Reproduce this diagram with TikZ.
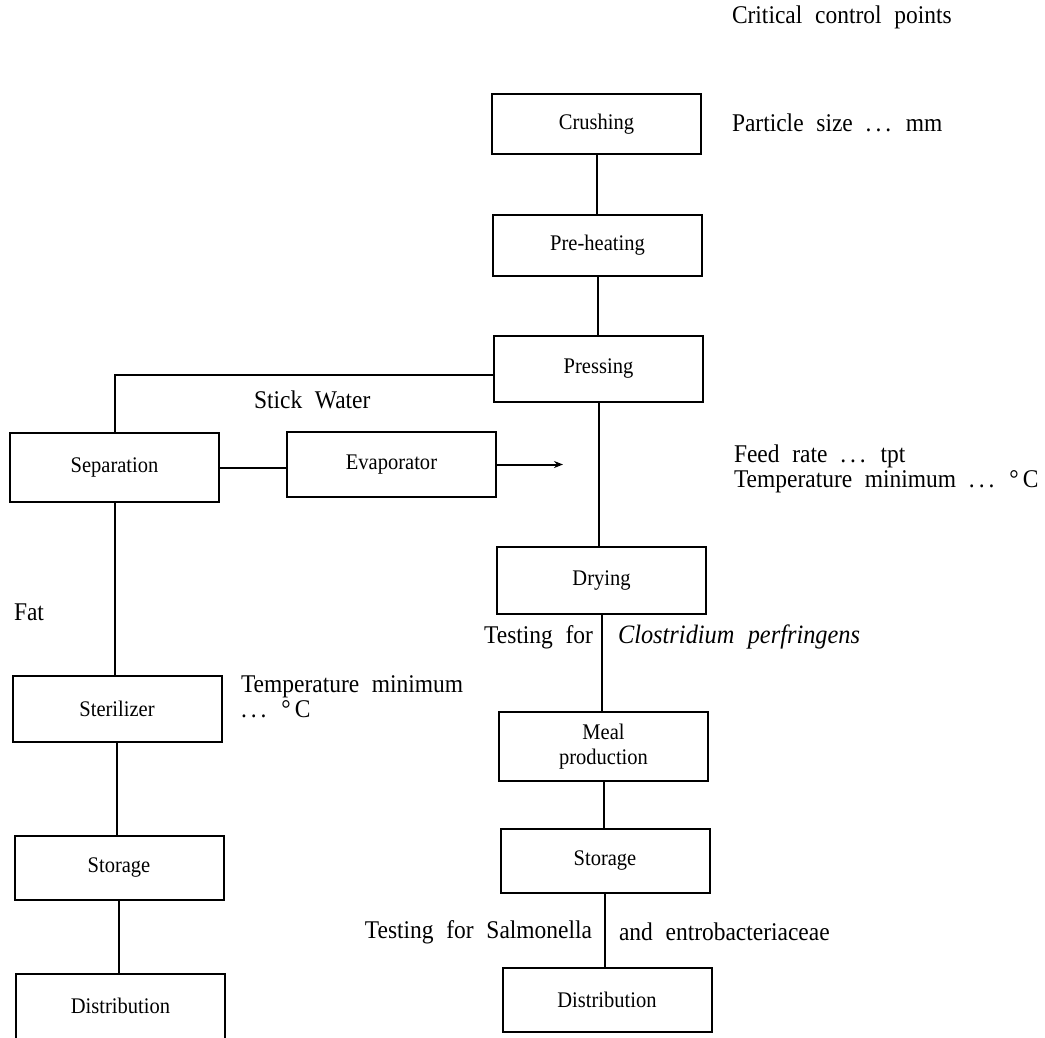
\documentclass[tikz,border=0pt]{standalone}
\usepackage{fontspec}
\setmainfont{Liberation Serif}[FakeStretch=0.92]
\usetikzlibrary{arrows.meta}
\newcommand\boxfont{\fontsize{22.3}{24.5}\selectfont}
\newcommand\lblfont{\fontsize{25.5}{25}\selectfont\spaceskip=0.5em plus 0.1em\relax}
\newcommand\closfont{\fontsize{26.5}{27}\selectfont\itshape\spaceskip=0.5em plus 0.1em\relax}
\newcommand\dts{.\kern4pt.\kern4pt.}
\begin{document}
\begin{tikzpicture}[x=1pt,y=-1pt,
  line width=2pt,
  stage/.style={draw, line width=2pt, minimum width=209pt, inner sep=0pt, font=\boxfont, align=center},
  lbl/.style={inner sep=0pt, font=\lblfont, anchor=west},
  lblr/.style={inner sep=0pt, font=\lblfont, anchor=east},
  flow/.style={line width=2pt},
  outarrow/.style={line width=2pt, -{Stealth[length=9pt,width=7pt]}}]
\clip (0,0) rectangle (1045,1037);
\useasboundingbox (0,0) rectangle (1045,1037);

% main meal line
\node[stage, minimum height=60pt] (crush)   at (596.5,124)   {Crushing};
\node[stage, minimum height=61pt] (preheat) at (597.5,245.5) {Pre-heating};
\node[stage, minimum height=66pt] (press)   at (598.5,369)   {Pressing};
\node[stage, minimum height=67pt] (dry)     at (601.5,580.5) {Drying};
\node[stage, minimum height=69pt] (meal)    at (603.5,746.5) {Meal\\production};
\node[stage, minimum height=64pt] (rstor)   at (605,861)     {Storage};
\node[stage, minimum height=64pt] (rdist)   at (607,1000)    {Distribution};

% stick water and fat line
\node[stage, minimum height=69pt] (sep)   at (114.5,467.5) {Separation};
\node[stage, minimum height=65pt] (evap)  at (391.5,464.5) {Evaporator};
\node[stage, minimum height=66pt] (ster)  at (117,709)     {Sterilizer};
\node[stage, minimum height=64pt] (lstor) at (119,868)     {Storage};
\node[stage, minimum height=80pt] (ldist) at (120.5,1014)  {};
\node[inner sep=0pt, font=\boxfont] (ldisttxt) at (120.5,1006) {Distribution};

% labels
\node[lbl] (crit)     at (731,17)  {Critical control points};
\node[lbl] (particle) at (731,123) {Particle size \dts{} mm};
\node[lbl] (stick)    at (253,400) {Stick Water};
\node[lbl, align=left] (feed) at (733,469) {Feed rate \dts{} tpt\\Temperature minimum \dts{} °\,C};
\node[lbl] (fat)      at (13,612)  {Fat};
\node[lbl, align=left] (stemp) at (240,697) {Temperature minimum\\\dts{} °\,C};
\node[lblr] (test1)   at (594,637) {Testing for};
\node[lbl, font=\closfont] (clos) at (617,637) {Clostridium perfringens};
\node[lblr] (test2)   at (593,932) {Testing for Salmonella};
\node[lbl] (entro)    at (618,932) {and entrobacteriaceae};

\coordinate (evapout) at (563,464.5);

% connectors
\draw[flow] (crush.south) -- (crush.south |- preheat.north);
\draw[flow] (preheat.south) -- (preheat.south |- press.north);
\draw[flow] (press.south) -- (press.south |- dry.north);
\draw[flow] (dry.south) -- (dry.south |- meal.north);
\draw[flow] (meal.south) -- (meal.south |- rstor.north);
\draw[flow] (rstor.south) -- (rstor.south |- rdist.north);
\draw[flow] ([yshift=-6pt]press.west) -| (sep.north);
\draw[flow] (sep.east) -- (sep.east -| evap.west);
\draw[outarrow] (evap.east) -- (evapout);
\draw[flow] (sep.south) -- (sep.south |- ster.north);
\draw[flow] (ster.south) -- (ster.south |- lstor.north);
\draw[flow] (lstor.south) -- (lstor.south |- ldist.north);
\end{tikzpicture}
\end{document}
